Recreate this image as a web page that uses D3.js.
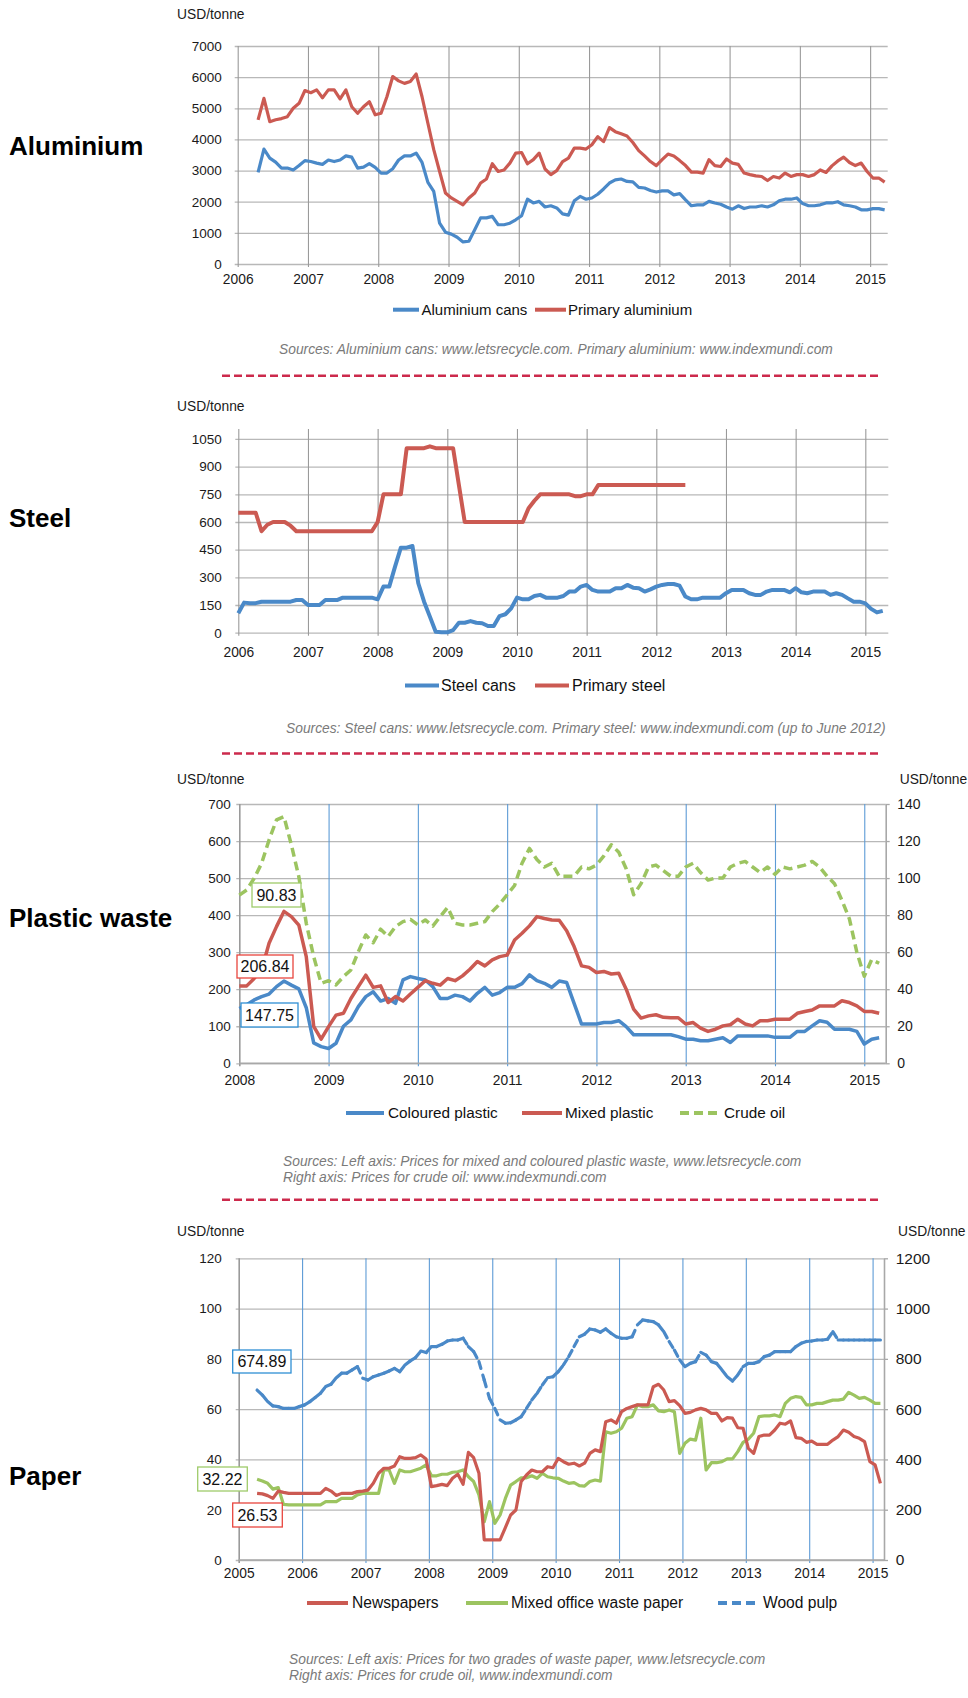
<!DOCTYPE html>
<html>
<head>
<meta charset="utf-8">
<script src="https://cdn.jsdelivr.net/npm/d3@7"></script>
<style>
  body { margin: 0; background: #fff; }
  svg { display: block; }
</style>
</head>
<body>
<svg id="chart" width="968" height="1698"></svg>
<script>
// ---- data (USD/tonne, monthly) ----

// Aluminium, first month Apr 2006
const alStart = 2006.29;
const aluminiumCans = [2940, 3690, 3400, 3270, 3080, 3080, 3020, 3160, 3320, 3290, 3240, 3200, 3340, 3290, 3340, 3470, 3430, 3080, 3110, 3220,
  3100, 2920, 2920, 3060, 3340, 3470, 3470, 3560, 3260, 2620, 2330, 1310, 1020, 960, 860, 710, 730, 1100, 1480, 1480,
  1530, 1260, 1260, 1310, 1420, 1550, 2080,
  1960, 2010, 1830, 1870, 1800, 1610, 1570, 2030, 2170, 2080, 2120, 2240, 2410, 2600, 2700, 2730, 2650, 2640, 2460, 2440,
  2360, 2310, 2350, 2350, 2220, 2260, 2060, 1870, 1900, 1900, 2010, 1960, 1920, 1830, 1760, 1870, 1780, 1830, 1830, 1870,
  1830, 1900, 2030, 2080, 2080, 2120, 1940, 1870, 1870, 1900, 1960, 1960, 2000, 1900, 1870, 1830, 1740, 1740, 1780, 1780, 1740];
const primaryAluminium = [4630, 5320, 4570, 4630, 4670, 4730, 5000, 5160, 5570, 5500, 5590, 5340, 5590, 5590, 5300, 5590, 5050, 4840, 5050, 5210,
  4790, 4840, 5370, 6020, 5880, 5800, 5860, 6100, 5370, 4520, 3670, 2970, 2280, 2120, 2010, 1900, 2120, 2280, 2600, 2730,
  3220, 2970, 3020, 3240, 3560, 3580, 3220,
  3350, 3560, 3050, 2870, 3000, 3290, 3400, 3720, 3720, 3690, 3830, 4090, 3930, 4380, 4250, 4180, 4110, 3900, 3640, 3470,
  3290, 3160, 3350, 3530, 3470, 3320, 3160, 2950, 2950, 2920, 3350, 3160, 3130, 3370, 3240, 3200, 2920, 2870, 2830, 2810,
  2680, 2810, 2760, 2920, 2810, 2870, 2870, 2810, 2870, 3020, 2940, 3150, 3310, 3430, 3260, 3160, 3240, 2970, 2760, 2760, 2630];

// Steel, first month Jan 2006 (primary steel up to June 2012)
const steelStart = 2006.0;
const steelCans = [105, 163, 160, 160, 168, 168, 168, 168, 168, 168, 177, 177, 150, 150, 150, 177, 177, 177, 190, 190,
  190, 190, 190, 190, 181, 250, 250, 358, 461, 461, 470, 268, 168, 87, 5, 2, 2, 14, 54, 54,
  63, 54, 51, 36, 36, 90, 100, 132, 190, 181, 181, 199, 205, 190, 190, 190, 199, 223, 223, 250,
  259, 232, 223, 223, 223, 241, 241, 259, 244, 241, 223, 235, 250, 259, 264, 264, 255, 196, 181, 181,
  190, 190, 190, 190, 214, 232, 232, 232, 214, 205, 205, 223, 232, 232, 232, 219, 241, 219, 214, 223,
  223, 223, 205, 214, 205, 186, 168, 168, 159, 129, 110, 118];
const primarySteel = [650, 650, 650, 650, 550, 585, 600, 600, 600, 580, 550, 550, 550, 550, 550, 550, 550, 550, 550, 550,
  550, 550, 550, 550, 600, 750, 750, 750, 750, 1000, 1000, 1000, 1000, 1010, 1000, 1000, 1000, 1000, 800, 600,
  600, 600, 600, 600, 600, 600, 600, 600, 600, 600, 675, 715, 750, 750, 750, 750, 750, 750, 740, 740,
  750, 750, 800, 800, 800, 800, 800, 800, 800, 800, 800, 800, 800, 800, 800, 800, 800, 800];

// Plastic waste, first month Jan 2008; crude oil on right axis
const plasticStart = 2008.0;
const colouredPlastic = [148, 158, 171, 180, 187, 207, 222, 211, 201, 150, 55, 45, 40, 54, 100, 117, 153, 180, 193, 168,
  175, 162, 225, 234, 229, 225, 207, 175, 175, 184, 180, 168, 189, 205, 184, 191, 205, 205, 215, 239,
  223, 216, 205, 222, 218, 162, 106, 106, 106, 110, 110, 115, 99, 77, 77, 77, 77, 77, 77, 72,
  65, 65, 61, 61, 65, 69, 56, 74, 74, 74, 74, 74, 70, 70, 70, 86, 86, 101, 115, 111,
  92, 92, 92, 86, 52, 65, 69];
const mixedPlastic = [209, 209, 229, 252, 324, 369, 410, 396, 373, 288, 100, 65, 99, 130, 135, 175, 207, 238, 205, 209,
  164, 180, 168, 187, 205, 223, 216, 211, 229, 223, 236, 254, 275, 263, 279, 288, 292, 333, 351, 371,
  396, 391, 387, 386, 358, 315, 263, 259, 245, 248, 241, 243, 200, 146, 122, 128, 131, 124, 123, 123,
  106, 110, 95, 86, 92, 101, 104, 119, 106, 101, 115, 115, 119, 119, 119, 135, 140, 144, 155, 155,
  155, 169, 164, 155, 140, 140, 135];
const crudeOil = [90.8, 93.6, 99.9, 108, 120.6, 131.4, 133.2, 117.9, 100.8, 75.6, 57.6, 43.2, 44.6, 42.3, 46.8, 50.4, 60.3, 69.3, 65.1, 72.4,
  68.4, 73.8, 76.5, 77.7, 74.7, 77.4, 74.1, 79.2, 84.2, 75.6, 74.7, 74.7, 75.6, 76.5, 81.9, 86.0,
  91, 96, 108, 116, 110, 106, 108, 101, 101, 101, 106, 105, 107, 112, 118, 114, 105, 91, 97, 106,
  107, 104, 101, 101, 106, 108, 103, 99, 100, 100, 106, 108, 109, 106, 103, 106, 102, 106, 105, 106,
  107, 109, 106, 101, 97, 88, 78, 60, 47, 56, 54];

// Paper, first month Apr 2005; wood pulp on right axis
const paperStart = 2005.29;
const newspapers = [26.5, 26.3, 25.6, 24.5, 27.4, 26.9, 26.5, 26.5, 26.5, 26.5, 26.5, 26.5, 26.5, 28.5, 27.4, 25.7, 26.5, 26.5, 26.5, 27.2,
  27.4, 27.8, 30.5, 34.5, 36.5, 36.5, 37.4, 41.1, 40.4, 40.4, 40.7, 41.8, 40.2, 29.2, 29.6, 30.1, 29.6, 32.5, 34.1, 30.1,
  42.8, 40.7, 34.5, 8.0, 8.0, 8.0, 8.0, 12.9, 17.9, 19.9, 31.2, 33.8, 35.8, 35.1, 35.1, 37.1, 36.7, 40.4, 39.1, 38.1,
  38.5, 37.4, 38.5, 42.4, 43.8, 43.1, 55.0, 55.7, 54.4, 59.0, 60.3, 61.0, 61.7, 61.7, 61.7, 68.9, 69.9, 67.6, 63.0, 63.4,
  61.4, 58.3, 58.7, 59.7, 60.3, 59.7, 58.3, 58.3, 55.3, 56.6, 56.4, 52.6, 52.4, 44.4, 42.4, 49.1, 49.7, 49.7, 51.7, 54.4,
  54.0, 55.3, 48.7, 48.4, 46.8, 47.3, 46.0, 46.0, 46.0, 47.7, 49.1, 51.7, 50.8, 49.1, 48.4, 47.1, 39.1, 37.8, 30.5];
const mixedOffice = [32.1, 31.4, 30.5, 28.2, 28.8, 22.1, 21.9, 21.9, 21.9, 21.9, 21.9, 21.9, 21.9, 23.2, 23.2, 23.2, 24.5, 24.5, 24.5, 25.9,
  26.5, 26.5, 26.5, 26.5, 35.8, 35.8, 30.5, 35.8, 35.1, 35.1, 35.8, 36.5, 37.8, 33.5, 33.5, 34.1, 34.1, 34.9, 35.1, 35.8,
  33.1, 31.2, 25.9, 15.2, 23.2, 14.6,
  17.9, 24.5, 29.8, 31.2, 32.7, 32.7, 33.5, 32.5, 34.5, 33.1, 32.7, 32.5, 31.4, 30.5, 30.8, 29.6, 29.4, 31.2, 31.8, 31.4,
  51.0, 50.4, 51.0, 52.4, 56.4, 57.0, 61.7, 61.0, 61.0, 61.7, 59.3, 59.0, 59.7, 59.0, 42.4, 46.4, 48.1, 47.7, 56.4, 35.8,
  38.7, 38.7, 39.1, 40.2, 40.2, 43.1, 46.8, 48.1, 50.4, 57.0, 57.3, 57.3, 57.7, 57.0, 62.3, 64.3, 65.0, 64.7, 61.7, 61.7,
  62.3, 62.3, 63.0, 63.6, 63.6, 64.0, 66.7, 65.6, 64.3, 64.7, 63.6, 62.3, 62.3];
const woodPulp = [676, 656, 630, 613, 610, 603, 603, 603, 610, 617, 630, 646, 663, 690, 699, 725, 743, 743, 756, 769,
  723, 716, 729, 736, 743, 752, 762, 749, 776, 792, 805, 831, 825, 849, 849, 858, 871, 875, 875, 882,
  849, 829, 789, 716, 643, 603, 557, 544,
  546, 557, 570, 603, 636, 663, 696, 725, 729, 749, 776, 809, 849, 888, 898, 919, 915, 906, 919, 902,
  888, 882, 882, 888, 935, 955, 951, 948, 935, 908, 869, 835, 796, 769, 782, 789, 826, 815, 789, 782,
  756, 729, 712, 736, 769, 782, 782, 789, 809, 815, 829, 829, 829, 829, 849, 862, 869, 871, 875, 875,
  878, 908, 875, 875, 875, 875, 875, 875, 875, 875, 875];

// ---- ticks ----
const years2005 = [2005, 2006, 2007, 2008, 2009, 2010, 2011, 2012, 2013, 2014, 2015];
const years2006 = [2006, 2007, 2008, 2009, 2010, 2011, 2012, 2013, 2014, 2015];
const years2008 = [2008, 2009, 2010, 2011, 2012, 2013, 2014, 2015];
const alTicks = [0, 1000, 2000, 3000, 4000, 5000, 6000, 7000];
const steelTicks = [0, 150, 300, 450, 600, 750, 900, 1050];
const plasticTicks = [0, 100, 200, 300, 400, 500, 600, 700];
const oilTicks = [0, 20, 40, 60, 80, 100, 120, 140];
const paperTicks = [0, 20, 40, 60, 80, 100, 120];
const pulpTicks = [0, 200, 400, 600, 800, 1000, 1200];

// ---- styles ----
const font = '"Liberation Sans", Arial, Helvetica, sans-serif';
const blue = "#4a89c8", red = "#cb5a52", green = "#9cc460";
const gridGray = "#b8b8b8", vGray = "#9a9a9a", gridBlue = "#5d9bd6", axisGray = "#a8a8a8";
const plain = d3.format("d");

const svg = d3.select("#chart").attr("font-family", font);

function monthly(start, values) {
  return values.map((v, i) => ({x: start + i / 12, v: v}));
}

function drawPanel(p) {
  const g = svg.append("g");
  const x = d3.scaleLinear().domain(p.xDomain).range([p.left, p.right]);
  const y = d3.scaleLinear().domain(p.yDomain).range([p.bottom, p.top]);
  const y2 = p.y2Domain ? d3.scaleLinear().domain(p.y2Domain).range([p.bottom, p.top]) : null;

  // horizontal grid + left labels
  g.append("g")
    .attr("transform", "translate(" + p.left + ",0)")
    .call(d3.axisLeft(y).tickValues(p.yTicks).tickFormat(plain)
      .tickSize(-(p.right - p.left)).tickPadding(p.yPad))
    .attr("font-family", font).attr("font-size", 13.5)
    .call(a => a.select(".domain").remove())
    .call(a => a.selectAll(".tick line").attr("x1", -3).attr("stroke", gridGray).attr("stroke-width", 1.3))
    .call(a => a.selectAll(".tick text").attr("fill", "#1a1a1a"));

  // vertical grid + year labels
  g.append("g")
    .attr("transform", "translate(0," + p.bottom + ")")
    .call(d3.axisBottom(x).tickValues(p.years).tickFormat(plain)
      .tickSize(-(p.bottom - p.top)).tickPadding(p.xPad))
    .attr("font-family", font).attr("font-size", 13.8)
    .call(a => a.select(".domain").remove())
    .call(a => a.selectAll(".tick line").attr("y1", 3)
      .attr("stroke", (d, i) => (i === 0 || !p.blueGrid) ? vGray : gridBlue)
      .attr("stroke-width", (d, i) => (i === 0 && p.blueGrid) ? 1.6 : 1.1))
    .call(a => a.selectAll(".tick text").attr("fill", "#1a1a1a"));

  // right axis
  if (y2) {
    g.append("g")
      .attr("transform", "translate(" + p.right + ",0)")
      .call(d3.axisRight(y2).tickValues(p.y2Ticks).tickFormat(plain)
        .tickSize(4).tickSizeOuter(0).tickPadding(p.y2Pad))
      .attr("font-family", font).attr("font-size", p.y2Font)
      .call(a => a.select(".domain").attr("stroke", axisGray).attr("stroke-width", 1.6))
      .call(a => a.selectAll(".tick line").attr("stroke", axisGray).attr("stroke-width", 1.3))
      .call(a => a.selectAll(".tick text").attr("fill", "#1a1a1a"));
  }

  // bottom axis line for dual panels
  if (p.blueGrid) {
    g.append("line")
      .attr("x1", p.left).attr("x2", p.right)
      .attr("y1", y(0)).attr("y2", y(0))
      .attr("stroke", axisGray).attr("stroke-width", 1.6);
  }

  // series
  p.series.forEach(s => {
    const sc = s.right ? y2 : y;
    const pts = monthly(s.start, s.values);
    if (s.segments) {
      // dash restarts at every point, so short steps look solid
      g.append("g").selectAll("line")
        .data(d3.pairs(pts))
        .join("line")
          .attr("x1", d => x(d[0].x)).attr("y1", d => sc(d[0].v))
          .attr("x2", d => x(d[1].x)).attr("y2", d => sc(d[1].v))
          .attr("stroke", s.color)
          .attr("stroke-width", p.lineWidth)
          .attr("stroke-linecap", "round")
          .attr("stroke-dasharray", "7,7");
    } else {
      g.append("path")
        .datum(pts)
        .attr("fill", "none")
        .attr("stroke", s.color)
        .attr("stroke-width", p.lineWidth)
        .attr("stroke-linejoin", "round")
        .attr("stroke-dasharray", s.dash || null)
        .attr("d", d3.line().x(d => x(d.x)).y(d => sc(d.v)));
    }
  });

  // value boxes
  (p.boxes || []).forEach(b => {
    g.append("rect")
      .attr("x", b.x).attr("y", b.y).attr("width", b.w).attr("height", b.h)
      .attr("fill", "#fff").attr("stroke", b.color).attr("stroke-width", 1.3);
    g.append("text")
      .attr("x", b.x + b.w / 2).attr("y", b.y + b.h / 2).attr("dy", "0.35em")
      .attr("text-anchor", "middle").attr("font-size", 16).attr("fill", "#111")
      .text(b.label);
  });

  // titles
  svg.append("text").attr("x", 9).attr("y", p.titleY)
    .attr("font-size", 26).attr("font-weight", "bold").attr("fill", "#000").text(p.title);
  svg.append("text").attr("x", 177).attr("y", p.unitY)
    .attr("font-size", 13.8).attr("fill", "#1a1a1a").text("USD/tonne");
  if (y2) {
    svg.append("text").attr("x", p.right + 14).attr("y", p.unitY)
      .attr("font-size", 13.8).attr("fill", "#1a1a1a").text("USD/tonne");
  }

  // legend
  p.legend.forEach(l => {
    g.append("line")
      .attr("x1", l.x1).attr("x2", l.x2).attr("y1", p.legendY).attr("y2", p.legendY)
      .attr("stroke", l.color).attr("stroke-width", 4)
      .attr("stroke-dasharray", l.dash || null);
    g.append("text")
      .attr("x", l.tx).attr("y", p.legendY).attr("dy", "0.35em")
      .attr("font-size", p.legendFont).attr("fill", "#111")
      .text(l.label);
  });

  // sources
  p.sources.forEach((t, i) => {
    g.append("text")
      .attr("x", p.srcX).attr("y", p.srcY + i * 16.5)
      .attr("font-size", 13.8).attr("font-style", "italic").attr("fill", "#7a7a7a")
      .text(t);
  });
}

drawPanel({
  title: "Aluminium", titleY: 155, unitY: 19,
  left: 237.7, right: 887.7, top: 46, bottom: 264,
  xDomain: [2006, 2015.25], yDomain: [0, 7000],
  years: years2006, yTicks: alTicks, yPad: 16, xPad: 10.5,
  lineWidth: 3.2,
  series: [
    {start: alStart, values: aluminiumCans, color: blue},
    {start: alStart, values: primaryAluminium, color: red}
  ],
  legendY: 309.7, legendFont: 15,
  legend: [
    {x1: 393, x2: 419, tx: 421.5, color: blue, label: "Aluminium cans"},
    {x1: 535, x2: 566, tx: 568, color: red, label: "Primary aluminium"}
  ],
  srcX: 279, srcY: 353.5,
  sources: ["Sources: Aluminium cans: www.letsrecycle.com. Primary aluminium: www.indexmundi.com"]
});

drawPanel({
  title: "Steel", titleY: 527, unitY: 411,
  left: 238.3, right: 888.3, top: 429, bottom: 632.7,
  xDomain: [2006, 2015.33], yDomain: [0, 1104],
  years: years2006, yTicks: steelTicks, yPad: 16.5, xPad: 14.5,
  lineWidth: 4,
  series: [
    {start: steelStart, values: steelCans, color: blue},
    {start: steelStart, values: primarySteel, color: red}
  ],
  legendY: 685.4, legendFont: 16,
  legend: [
    {x1: 405, x2: 439, tx: 441, color: blue, label: "Steel cans"},
    {x1: 535, x2: 569, tx: 572, color: red, label: "Primary steel"}
  ],
  srcX: 286, srcY: 732.5,
  sources: ["Sources: Steel cans: www.letsrecycle.com. Primary steel: www.indexmundi.com (up to June 2012)"]
});

drawPanel({
  title: "Plastic waste", titleY: 927, unitY: 784,
  left: 239.3, right: 885.7, top: 804, bottom: 1063.3,
  xDomain: [2008, 2015.24], yDomain: [0, 700],
  y2Domain: [0, 140], y2Ticks: oilTicks, y2Pad: 7.5, y2Font: 14,
  years: years2008, yTicks: plasticTicks, yPad: 8.6, xPad: 11.5,
  blueGrid: true, lineWidth: 3.5,
  series: [
    {start: plasticStart, values: crudeOil, color: green, right: true, dash: "9,5"},
    {start: plasticStart, values: colouredPlastic, color: blue},
    {start: plasticStart, values: mixedPlastic, color: red}
  ],
  boxes: [
    {x: 252, y: 883, w: 49, h: 24, color: "#9fcb6a", label: "90.83"},
    {x: 237, y: 955, w: 56, h: 23, color: "#e8463e", label: "206.84"},
    {x: 241, y: 1003, w: 57, h: 24, color: "#2f8fd4", label: "147.75"}
  ],
  legendY: 1113, legendFont: 15.3,
  legend: [
    {x1: 346, x2: 384, tx: 388, color: blue, label: "Coloured plastic"},
    {x1: 522, x2: 562, tx: 565, color: red, label: "Mixed plastic"},
    {x1: 680, x2: 717, tx: 724, color: green, dash: "9,5", label: "Crude oil"}
  ],
  srcX: 283, srcY: 1165.5,
  sources: ["Sources: Left axis: Prices for mixed and coloured plastic waste, www.letsrecycle.com",
            "Right axis: Prices for crude oil: www.indexmundi.com"]
});

drawPanel({
  title: "Paper", titleY: 1485, unitY: 1236,
  left: 238.7, right: 884, top: 1258.3, bottom: 1560,
  xDomain: [2005, 2015.18], yDomain: [0, 120],
  y2Domain: [0, 1200], y2Ticks: pulpTicks, y2Pad: 7.7, y2Font: 15.5,
  years: years2005, yTicks: paperTicks, yPad: 17, xPad: 8.3,
  blueGrid: true, lineWidth: 3.2,
  series: [
    {start: paperStart, values: woodPulp, color: blue, right: true, segments: true},
    {start: paperStart, values: mixedOffice, color: green},
    {start: paperStart, values: newspapers, color: red}
  ],
  boxes: [
    {x: 232.7, y: 1350, w: 58.3, h: 23, color: "#2f8fd4", label: "674.89"},
    {x: 197.7, y: 1467, w: 49.6, h: 24, color: "#9fcb6a", label: "32.22"},
    {x: 232.7, y: 1503, w: 49.6, h: 24, color: "#e8463e", label: "26.53"}
  ],
  legendY: 1603, legendFont: 15.6,
  legend: [
    {x1: 307, x2: 348, tx: 352, color: red, label: "Newspapers"},
    {x1: 466, x2: 508, tx: 511, color: green, label: "Mixed office waste paper"},
    {x1: 718, x2: 756, tx: 763, color: blue, dash: "9,5", label: "Wood pulp"}
  ],
  srcX: 289, srcY: 1663.5,
  sources: ["Sources: Left axis: Prices for two grades of waste paper, www.letsrecycle.com",
            "Right axis: Prices for crude oil, www.indexmundi.com"]
});

// dashed separators between panels
svg.append("g").selectAll("line")
  .data([375.7, 753.6, 1199.7])
  .join("line")
    .attr("x1", 222).attr("x2", 879)
    .attr("y1", d => d).attr("y2", d => d)
    .attr("stroke", "#cc2a4c")
    .attr("stroke-width", 2.5)
    .attr("stroke-dasharray", "8,4");
</script>
</body>
</html>
